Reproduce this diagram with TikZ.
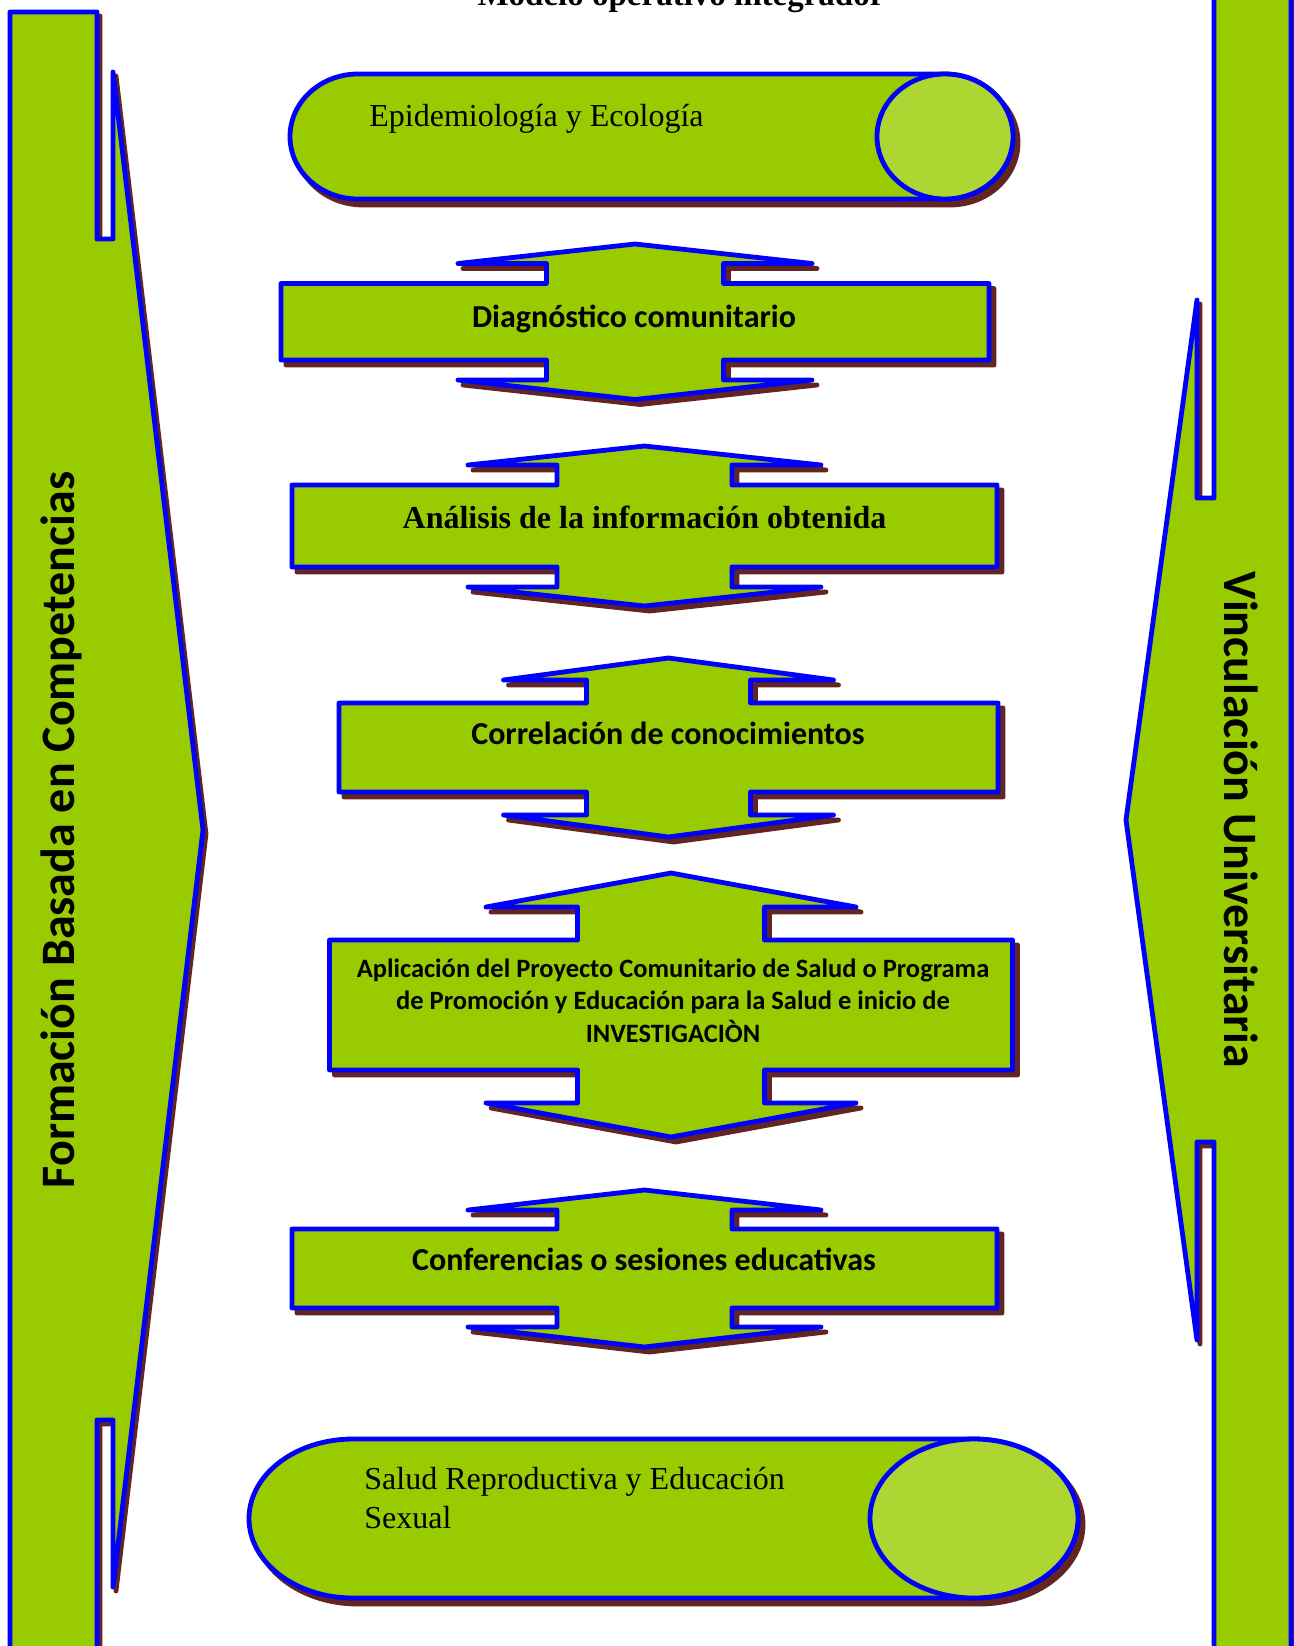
\documentclass[tikz,border=0pt]{standalone}
\usepackage{fontspec}
\setmainfont{Liberation Serif}
\newfontfamily\calfont{Carlito}
\definecolor{boxgreen}{HTML}{99CC00}
\definecolor{capgreen}{HTML}{ADD633}
\definecolor{shadowbrown}{HTML}{632523}
\definecolor{edgeblue}{HTML}{0000FF}
\tikzset{
  mainshape/.style={fill=boxgreen, draw=edgeblue, line width=2.4pt, line join=round, line cap=round},
  shadowshape/.style={fill=shadowbrown, draw=shadowbrown, line width=2.4pt, line join=round, line cap=round},
  capshape/.style={fill=capgreen, draw=edgeblue, line width=2.4pt},
  sanslabel/.style={font=\calfont\bfseries\fontsize{16}{19.5}\selectfont, inner sep=0pt, text=black},
  smallsans/.style={font=\calfont\bfseries\fontsize{13.25}{16.25}\selectfont, inner sep=0pt, text=black},
  serifbold/.style={font=\bfseries\fontsize{16}{19}\selectfont, inner sep=0pt, text=black},
  seriflabel/.style={font=\fontsize{16}{19.5}\selectfont, inner sep=0pt, text=black},
  sidelabel/.style={font=\calfont\bfseries\fontsize{24}{29}\selectfont, inner sep=0pt, text=black},
}
% double arrow geometry: cx, rect half, wing half, neck half, y apex, head height, neck height, y rect bottom
\newcommand\setdbl[8]{%
  \pgfmathsetmacro\cxA{#1}%
  \pgfmathsetmacro\rL{#1-#2}\pgfmathsetmacro\rR{#1+#2}%
  \pgfmathsetmacro\wL{#1-#3}\pgfmathsetmacro\wR{#1+#3}%
  \pgfmathsetmacro\nL{#1-#4}\pgfmathsetmacro\nR{#1+#4}%
  \pgfmathsetmacro\yA{#5}\pgfmathsetmacro\yW{#5+#6}\pgfmathsetmacro\yT{#5+#6+#7}%
  \pgfmathsetmacro\yB{#8}\pgfmathsetmacro\yLW{#8+#7}\pgfmathsetmacro\yZ{#8+#7+#6}%
}
\newcommand\dblpath{(\nL,\yW) -- (\wL,\yW) -- (\cxA,\yA) -- (\wR,\yW) -- (\nR,\yW) -- (\nR,\yT) -- (\rR,\yT) -- (\rR,\yB) -- (\nR,\yB) -- (\nR,\yLW) -- (\wR,\yLW) -- (\cxA,\yZ) -- (\wL,\yLW) -- (\nL,\yLW) -- (\nL,\yB) -- (\rL,\yB) -- (\rL,\yT) -- (\nL,\yT) -- cycle}
\newcommand\drawdbl{%
  \path[shadowshape, shift={(5,5)}] \dblpath;
  \path[mainshape] \dblpath;
}
% cylinder: x left, x right, rx, cy, ry
\newcommand\setcyl[5]{%
  \pgfmathsetmacro\cyl{#1+#3}\pgfmathsetmacro\cyr{#2-#3}%
  \pgfmathsetmacro\cyrx{#3}\pgfmathsetmacro\cyc{#4}\pgfmathsetmacro\cyry{#5}%
  \pgfmathsetmacro\cyt{#4-#5}\pgfmathsetmacro\cyb{#4+#5}%
}
\newcommand\cylpath{(\cyl,\cyt) -- (\cyr,\cyt) arc[start angle=-90, end angle=90, x radius=\cyrx, y radius=\cyry] -- (\cyl,\cyb) arc[start angle=90, end angle=270, x radius=\cyrx, y radius=\cyry] -- cycle}
\newcommand\drawcyl{%
  \path[shadowshape, shift={(5,6)}] \cylpath;
  \path[mainshape] \cylpath;
  \path[capshape] (\cyr,\cyc) ellipse [x radius=\cyrx, y radius=\cyry];
}
\begin{document}
\begin{tikzpicture}[x=0.5pt, y=-0.5pt]
\useasboundingbox (0,0) rectangle (1294,1646);
\fill[white] (0,0) rectangle (1294,1646);

% left side shape
\path[shadowshape, shift={(3,4)}] (10,12) -- (97,12) -- (97,239) -- (113,239) -- (113,72) -- (203,830) -- (113,1587) -- (113,1420) -- (97,1420) -- (97,1660) -- (10,1660) -- cycle;
\path[mainshape] (10,12) -- (97,12) -- (97,239) -- (113,239) -- (113,72) -- (203,830) -- (113,1587) -- (113,1420) -- (97,1420) -- (97,1660) -- (10,1660) -- cycle;
\node[sidelabel, rotate=90, anchor=base] (formacion) at (75,830) {Formación Basada en Competencias};

% right side shape
\path[shadowshape, shift={(3,4)}] (1214,-20) -- (1214,498) -- (1197,498) -- (1197,300) -- (1126,820) -- (1197,1340) -- (1197,1142) -- (1214,1142) -- (1214,1670) -- (1291,1670) -- (1291,-20) -- cycle;
\path[mainshape] (1214,-20) -- (1214,498) -- (1197,498) -- (1197,300) -- (1126,820) -- (1197,1340) -- (1197,1142) -- (1214,1142) -- (1214,1670) -- (1291,1670) -- (1291,-20) -- cycle;
\node[sidelabel, rotate=-90, anchor=base] (vinculacion) at (1224,820) {Vinculación Universitaria};

% title (cut off at the top edge, as in the reference)
\node[serifbold, font=\bfseries\fontsize{16.5}{19}\selectfont, anchor=base] (title) at (681,5) {Modelo operativo integrador};

% top cylinder
\setcyl{290}{1013}{68}{136.5}{62.5}
\drawcyl
\node[seriflabel, anchor=base west] (epi) at (369,126) {Epidemiología y Ecología};

% double arrows
\setdbl{635}{354}{177}{88.5}{244}{19.5}{20}{360}
\drawdbl
\node[sanslabel, anchor=base] (diag) at (634,327) {Diagnóstico comunitario};

\setdbl{644.5}{352.5}{176.5}{87.5}{446}{19}{20}{567}
\drawdbl
\node[serifbold, anchor=base] (analisis) at (644.5,528) {Análisis de la información obtenida};

\setdbl{668.5}{329.5}{165}{82}{658}{22}{23}{792}
\drawdbl
\node[sanslabel, anchor=base] (correl) at (668,744) {Correlación de conocimientos};

\setdbl{671}{341.5}{185}{93.5}{873}{34}{33}{1070}
\drawdbl
\node[smallsans, anchor=base] (app1) at (673,977) {Aplicación del Proyecto Comunitario de Salud o Programa};
\node[smallsans, anchor=base] (app2) at (673,1009) {de Promoción y Educación para la Salud e inicio de};
\node[smallsans, anchor=base] (app3) at (673,1042) {INVESTIGACIÒN};

\setdbl{644.5}{352.5}{176.5}{87.5}{1190}{20}{19}{1308}
\drawdbl
\node[sanslabel, anchor=base] (conf) at (644,1270) {Conferencias o sesiones educativas};

% bottom cylinder
\setcyl{249}{1078}{104}{1518.5}{79.5}
\drawcyl
\node[seriflabel, anchor=base west] (salud1) at (364,1489) {Salud Reproductiva y Educación};
\node[seriflabel, anchor=base west] (salud2) at (364,1528) {Sexual};
\end{tikzpicture}
\end{document}
